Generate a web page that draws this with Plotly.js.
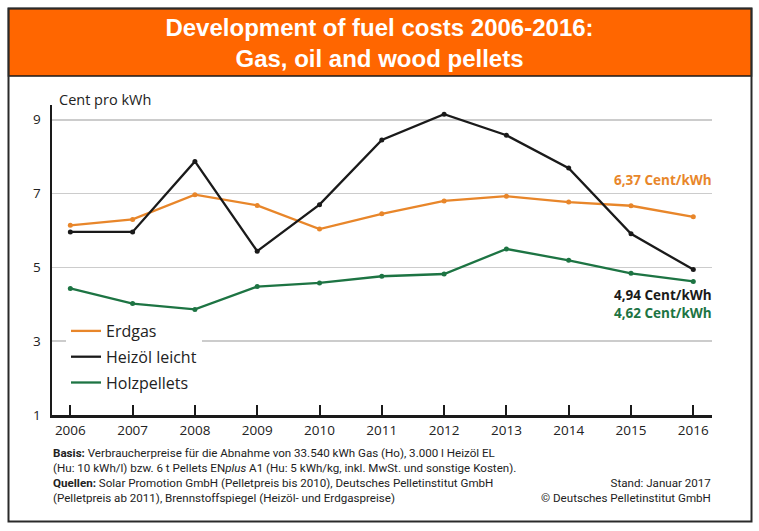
<!DOCTYPE html>
<html>
<head>
<meta charset="utf-8">
<script src="https://cdn.plot.ly/plotly-3.0.1.min.js"></script>
<style>
  html, body { margin: 0; padding: 0; background: #ffffff; }
  #chart { width: 759px; height: 531px; }
</style>
</head>
<body>
<div id="chart"></div>
<script>
// ---- Data ----
const years = [2006, 2007, 2008, 2009, 2010, 2011, 2012, 2013, 2014, 2015, 2016];
const erdgas = [6.14, 6.30, 6.97, 6.68, 6.04, 6.45, 6.80, 6.93, 6.77, 6.67, 6.37];
const heizoel = [5.96, 5.96, 7.87, 5.44, 6.70, 8.45, 9.15, 8.58, 7.69, 5.91, 4.94];
const holzpellets = [4.43, 4.02, 3.86, 4.48, 4.58, 4.76, 4.82, 5.50, 5.19, 4.84, 4.62];
const seriesNames = ["Erdgas", "Heizöl leicht", "Holzpellets"];
const yTicks = [1, 3, 5, 7, 9];
const endLabels = ["6,37 Cent/kWh", "4,94 Cent/kWh", "4,62 Cent/kWh"];
const titleText = "Development of fuel costs 2006-2016:<br>Gas, oil and wood pellets";
const yUnit = "Cent pro kWh";
const footerLeft = "<b>Basis:</b> Verbraucherpreise für die Abnahme von 33.540 kWh Gas (Ho), 3.000 l Heizöl EL<br>" +
  "(Hu: 10 kWh/l) bzw. 6 t Pellets EN<i>plus</i> A1 (Hu: 5 kWh/kg, inkl. MwSt. und sonstige Kosten).<br>" +
  "<b>Quellen:</b> Solar Promotion GmbH (Pelletpreis bis 2010), Deutsches Pelletinstitut GmbH<br>" +
  "(Pelletpreis ab 2011), Brennstoffspiegel (Heizöl- und Erdgaspreise)";
const footerRight = "Stand: Januar 2017<br>© Deutsches Pelletinstitut GmbH";

// ---- Styles ----
const colors = ["#e8862a", "#1a1a1a", "#1d7443"];
const allSeries = [erdgas, heizoel, holzpellets];
const chartFont = "Open Sans, DejaVu Sans, sans-serif";

// pixel helpers for positions in paper units (plot area: x 52..712, y 105..415)
const PL = 52, PR = 712, PT = 105, PB = 415;
const px = v => (v - PL) / (PR - PL);
const py = v => (PB - v) / (PB - PT);

const traces = [];
allSeries.forEach((vals, i) => {
  traces.push({
    x: years, y: vals, type: "scatter", mode: "lines",
    name: seriesNames[i], legendgroup: "g" + i,
    line: { color: colors[i], width: 2.3 },
    hoverinfo: "skip"
  });
});
allSeries.forEach((vals, i) => {
  traces.push({
    x: years, y: vals, type: "scatter", mode: "markers",
    name: seriesNames[i], legendgroup: "g" + i, showlegend: false,
    marker: { color: colors[i], size: 5 },
    hoverinfo: "skip"
  });
});

const layout = {
  width: 759, height: 531,
  paper_bgcolor: "#ffffff", plot_bgcolor: "#ffffff",
  margin: { l: PL, r: 759 - PR, t: PT, b: 531 - PB, pad: 0 },
  showlegend: true,
  title: {
    text: titleText,
    font: { family: "Liberation Sans, Arial, sans-serif", size: 24, color: "#ffffff", weight: "bold" },
    x: 0.5, xanchor: "center", xref: "container",
    y: 1 - 36 / 531, yanchor: "middle", yref: "container"
  },
  xaxis: {
    range: [2005.706, 2016.3],
    tickvals: years, ticktext: years.map(String),
    ticks: "inside", ticklen: 10, tickwidth: 2, tickcolor: "#1a1a1a",
    showline: true, linecolor: "#1a1a1a", linewidth: 2.5,
    showgrid: false, zeroline: false,
    tickfont: { family: chartFont, size: 13.5, color: "#222222" },
    ticklabelstandoff: 1,
    fixedrange: true
  },
  yaxis: {
    range: [1, 9.4],
    tickvals: yTicks, ticktext: yTicks.map(String),
    ticks: "", showline: true, linecolor: "#1a1a1a", linewidth: 2.5,
    showgrid: true, gridcolor: "#cccccc", gridwidth: 1.5,
    zeroline: false,
    tickfont: { family: chartFont, size: 13.5, color: "#222222" },
    ticklabelstandoff: 6,
    fixedrange: true
  },
  legend: {
    x: px(66), xanchor: "left", y: py(314), yanchor: "top",
    bgcolor: "#ffffff", borderwidth: 0,
    font: { family: chartFont, size: 16, color: "#222222" },
    traceorder: "grouped", tracegroupgap: 2,
    itemwidth: 30
  },
  shapes: [
    { type: "rect", xref: "paper", yref: "paper", layer: "above",
      x0: px(8.5), x1: px(751.5), y0: py(76), y1: py(8.5),
      fillcolor: "#ff6600", line: { color: "#1a1a1a", width: 1.5 } },
    { type: "rect", xref: "paper", yref: "paper", layer: "above",
      x0: px(8.5), x1: px(751.5), y0: py(521.5), y1: py(8.5),
      fillcolor: "rgba(0,0,0,0)", line: { color: "#2a2a2a", width: 2 } }
  ],
  annotations: [
    { text: yUnit, xref: "paper", yref: "paper", x: px(57), y: py(99),
      xanchor: "left", yanchor: "middle", showarrow: false,
      font: { family: chartFont, size: 14.5, color: "#222222" } },
    { text: "<b>" + endLabels[0] + "</b>", xref: "paper", yref: "paper", x: px(714), y: py(180),
      xanchor: "right", yanchor: "middle", showarrow: false,
      font: { family: chartFont, size: 13.5, color: colors[0] } },
    { text: "<b>" + endLabels[1] + "</b>", xref: "paper", yref: "paper", x: px(714), y: py(295),
      xanchor: "right", yanchor: "middle", showarrow: false,
      font: { family: chartFont, size: 13.5, color: colors[1] } },
    { text: "<b>" + endLabels[2] + "</b>", xref: "paper", yref: "paper", x: px(714), y: py(313),
      xanchor: "right", yanchor: "middle", showarrow: false,
      font: { family: chartFont, size: 13.5, color: colors[2] } },
    { text: footerLeft, xref: "paper", yref: "paper", x: px(51), y: py(475.5),
      xanchor: "left", yanchor: "middle", align: "left", showarrow: false,
      font: { family: "Roboto, Liberation Sans, sans-serif", size: 11.6, color: "#222222" } },
    { text: footerRight, xref: "paper", yref: "paper", x: px(713), y: py(490),
      xanchor: "right", yanchor: "middle", align: "right", showarrow: false,
      font: { family: "Roboto, Liberation Sans, sans-serif", size: 11.6, color: "#222222" } }
  ]
};

Plotly.newPlot("chart", traces, layout, { staticPlot: true, displayModeBar: false });
</script>
</body>
</html>
